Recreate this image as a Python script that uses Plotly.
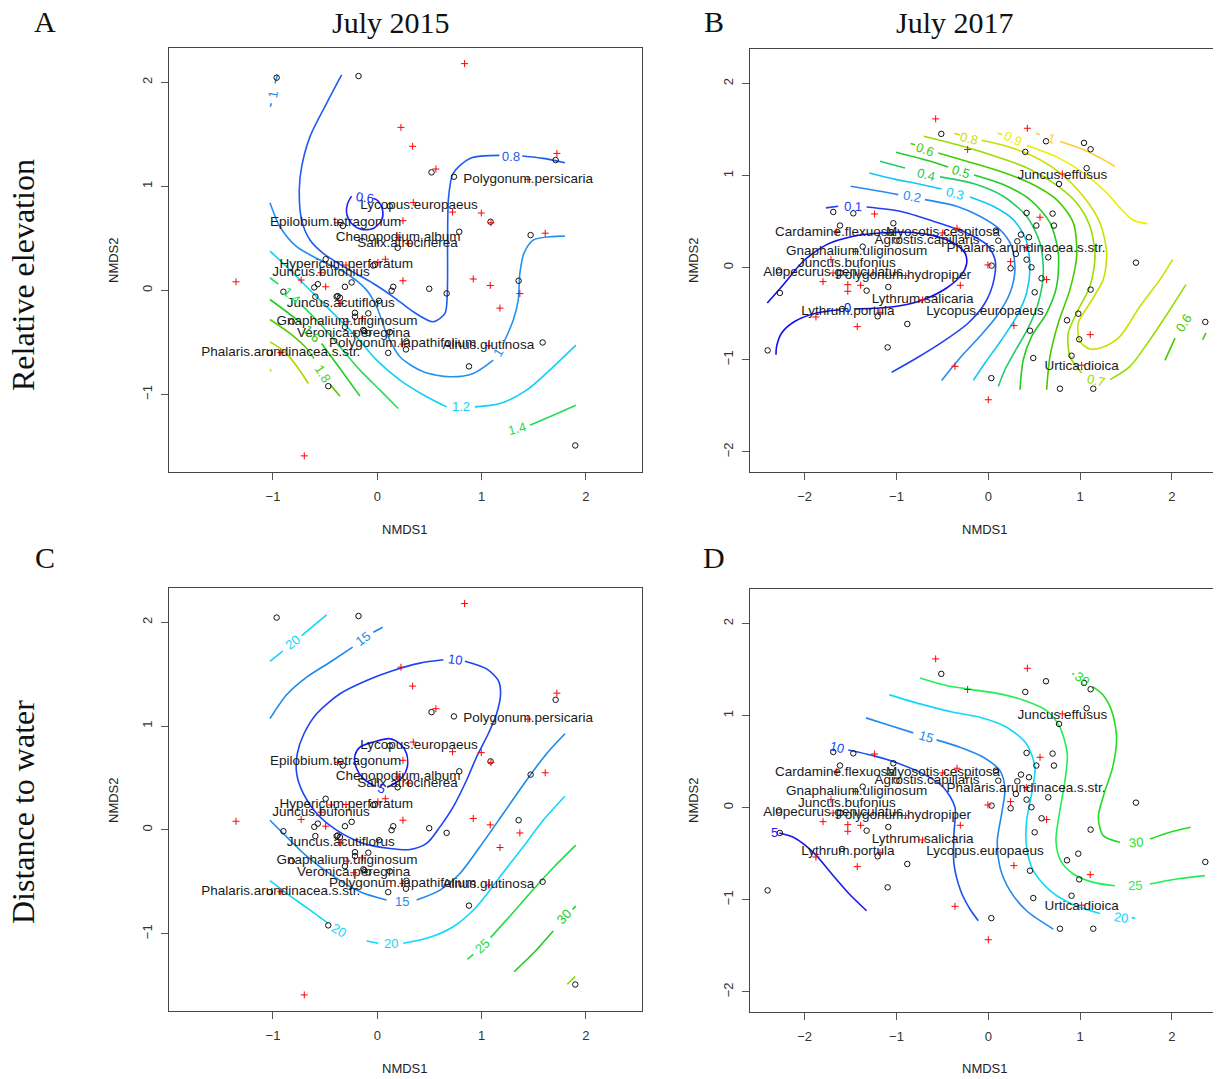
import math
import plotly.graph_objects as go

W0, H0 = 1221, 1079      # reference picture size
OFF = 8                  # page body margin of the browser
W, H = W0 - OFF, H0 - OFF

# ------------------------------------------------------------------ data
# 2015 ordination (panels A and C)
sites15_x = [-0.965, -0.18, 0.52, 0.735, 1.71, 1.086, 0.786, 1.47, 1.355, 0.665, 0.498, 0.153, 0.137,
             1.585, 0.879, 1.898, -0.47, 0.105, 0.275, 0.28, -0.9, -0.604, -0.57, -0.31, -0.246, -0.495,
             -0.594, -0.38, -0.358, -0.214, -0.086, 0.016, -0.214, -0.31, -0.134, -0.086, 0.12, 0.195,
             -0.33, 0.12, -0.82, -1.03, -0.04, -0.39, -0.125]
sites15_y = [2.045, 2.06, 1.135, 1.093, 1.253, 0.66, 0.564, 0.532, 0.093, -0.029, 0.016, 0.035, -0.003,
             -0.5, -0.73, -1.49, -0.92, -0.60, -0.567, -0.49, -0.013, 0.029, 0.06, 0.035, 0.077, 0.30,
             -0.06, -0.054, -0.07, -0.215, -0.22, -0.10, -0.253, -0.35, -0.38, -0.41, -0.40, 0.41,
             0.62, 0.81, -0.30, -0.60, 0.24, -0.06, -0.39]
species15_x = [0.837, 0.227, 0.339, 0.562, 1.722, 1.444, 0.345, 0.997, 1.09, 0.722, 0.246, -0.38, 1.61,
               0.2, 0.30, 0.077, 0.006, -0.30, -0.54, -0.73, -0.495, -1.355, 0.246, 0.92, 1.083, 1.367,
               1.176, -0.35, -0.29, -0.227, 0.243, 1.065, -0.925, -0.70, -0.44, -0.14]
species15_y = [2.18, 1.567, 1.385, 1.167, 1.317, 1.067, 0.846, 0.744, 0.65, 0.753, 0.67, 0.65, 0.55,
               0.51, 0.45, 0.30, 0.27, 0.244, 0.17, 0.10, 0.035, 0.083, 0.093, 0.11, 0.048, -0.03,
               -0.17, -0.125, -0.30, -0.413, -0.516, -0.532, -0.596, -1.59, 0.24, -0.27]
names15 = ["Polygonum.persicaria", "Lycopus.europaeus", "Epilobium.tetragonum", "Chenopodium.album",
           "Salix.atrocinerea", "Hypericum.perforatum", "Juncus.bufonius", "Juncus.acutiflorus",
           "Gnaphalium.uliginosum", "Veronica.peregrina", "Polygonum.lapathifolium", "Alnus.glutinosa",
           "Phalaris.arundinacea.s.str."]
names15_x = [1.447, 0.40, -0.40, 0.20, 0.29, -0.297, -0.54, -0.35, -0.29, -0.227, 0.243, 1.065, -0.925]
names15_y = [1.067, 0.814, 0.654, 0.51, 0.449, 0.244, 0.17, -0.125, -0.30, -0.413, -0.516, -0.532, -0.596]

# 2017 ordination (panels B and D)
sites17_x = [-0.512, 0.403, 0.628, 1.042, 1.114, 1.071, 0.77, -1.688, -1.47, -1.034, -1.615, 0.417, 0.70,
             0.523, 0.715, 0.083, 0.109, 0.356, 0.443, 0.316, 0.30, 0.417, 0.47, 0.653, 0.243, 0.036,
             1.608, 0.58, 0.505, 1.114, 0.98, 0.857, 0.99, 0.907, 0.454, 0.49, 0.033, 0.78, 1.143,
             2.363, -1.089, -1.325, -0.882, -1.096, -2.403, -2.27, -1.205, -1.593, -1.368, -1.0, -2.28]
sites17_y = [1.453, 1.257, 1.373, 1.355, 1.286, 1.08, 0.909, 0.605, 0.59, 0.482, 0.457, 0.594, 0.587,
             0.457, 0.457, 0.402, 0.293, 0.359, 0.33, 0.286, 0.149, 0.087, 0.004, 0.112, -0.007, 0.022,
             0.054, -0.116, -0.268, -0.239, -0.5, -0.572, -0.779, -0.957, -0.685, -0.982, -1.2, -1.315,
             -1.315, -0.59, -0.21, -0.25, -0.612, -0.866, -0.899, -0.275, -0.529, -0.449, 0.228, 0.293, -0.03]
species17_x = [-0.573, 0.425, -0.225, 0.806, -1.238, 0.563, -0.341, -0.497, -0.004, 0.243, 0.635, -0.305,
               0.279, 1.11, -0.363, 0.0, -1.427, -1.877, -1.80, -1.53, -1.53, -1.39, -1.713, -1.65,
               -1.445, -1.69, -0.9, -0.715, -1.18, 1.016, 0.414]
species17_y = [1.616, 1.514, 1.283, 1.018, 0.583, 0.547, 0.428, 0.377, 0.029, 0.065, -0.13, -0.192,
               -0.63, -0.728, -1.072, -1.435, -0.641, -0.536, -0.152, -0.185, -0.257, -0.192, 0.087, 0.39,
               0.174, -0.058, -0.087, -0.351, -0.49, -1.06, 0.217]
names17 = ["Juncus.effusus", "Cardamine.flexuosa", "Myosotis.cespitosa", "Agrostis.capillaris",
           "Phalaris.arundinacea.s.str.", "Gnaphalium.uliginosum", "Juncus.bufonius",
           "Alopecurus.geniculatus", "Polygonum.hydropiper", "Lythrum.salicaria", "Lythrum.portula",
           "Lycopus.europaeus", "Urtica.dioica"]
names17_x = [0.806, -1.67, -0.494, -0.667, 0.41, -1.434, -1.54, -1.69, -0.925, -0.715, -1.528, -0.036, 1.016]
names17_y = [1.0, 0.384, 0.377, 0.293, 0.203, 0.174, 0.043, -0.05, -0.083, -0.35, -0.48, -0.475, -1.08]

# fitted surface contour lines: (level label, points, indices of points carrying the level label)
elev15 = [
    ("0.6", [(-0.118, 0.894), (-0.038, 0.885), (0.008, 0.860), (0.051, 0.772), (0.042, 0.676), (-0.038, 0.596),
             (-0.150, 0.587), (-0.246, 0.644), (-0.294, 0.740), (-0.284, 0.837), (-0.246, 0.907)], [0]),
    ("0.8", [(-0.342, 2.071), (-0.486, 1.798), (-0.645, 1.478), (-0.725, 1.189), (-0.748, 0.965), (-0.725, 0.676),
             (-0.645, 0.484), (-0.518, 0.356), (-0.294, 0.212), (-0.038, 0.067), (0.153, -0.061), (0.345, -0.205),
             (0.537, -0.301), (0.649, -0.221), (0.671, -0.029), (0.674, 0.484), (0.684, 0.901), (0.728, 1.125),
             (0.888, 1.269), (1.17, 1.298), (1.281, 1.290), (1.39, 1.292), (1.591, 1.269), (1.799, 1.228)], [20]),
    ("1", [(-0.958, 2.071), (-0.981, 1.990), (-1.003, 1.885), (-1.016, 1.798), (-1.026, 1.766)], [2]),
    ("1", [(-1.029, 0.843), (-0.933, 0.612), (-0.773, 0.420), (-0.550, 0.292), (-0.294, 0.163), (-0.102, 0.003),
           (-0.006, -0.157), (0.089, -0.413), (0.217, -0.638), (0.441, -0.782), (0.696, -0.830), (0.920, -0.798),
           (1.112, -0.670), (1.160, -0.599), (1.208, -0.510), (1.304, -0.285), (1.351, -0.093), (1.367, 0.163),
           (1.406, 0.356), (1.495, 0.484), (1.655, 0.516), (1.799, 0.522)], [13]),
    ("1.2", [(-1.029, 0.378), (-0.869, 0.228), (-0.677, 0.035), (-0.422, -0.221), (-0.230, -0.413), (-0.006, -0.670),
             (0.217, -0.862), (0.473, -1.022), (0.665, -1.119), (0.802, -1.119), (0.936, -1.119), (1.176, -1.087),
             (1.431, -0.958), (1.687, -0.734), (1.904, -0.526)], [9]),
    ("1.4", [(-1.029, 0.122), (-0.949, 0.061), (-0.821, -0.045), (-0.725, -0.141), (-0.550, -0.317), (-0.358, -0.542),
             (-0.166, -0.766), (0.026, -0.958), (0.201, -1.135)], [2]),
    ("1.4", [(1.342, -1.327), (1.463, -1.295), (1.687, -1.199), (1.904, -1.103)], [0]),
    ("1.6", [(-1.029, -0.087), (-0.869, -0.205), (-0.725, -0.317), (-0.629, -0.413), (-0.534, -0.510),
             (-0.358, -0.750), (-0.166, -1.016)], [3]),
    ("1.8", [(-1.029, -0.279), (-0.837, -0.413), (-0.677, -0.558), (-0.607, -0.654), (-0.524, -0.798),
             (-0.447, -0.910), (-0.358, -1.016)], [4]),
    ("2", [(-1.029, -0.494), (-0.885, -0.590), (-0.757, -0.750), (-0.661, -0.894)], []),
    ("2.2", [(-1.026, -0.755), (-1.018, -0.778)], []),
]
elev15_colors = {"0.6": "#2323f5", "0.8": "#1f5cf5", "1": "#2391f0", "1.2": "#10d0f5", "1.4": "#22dd55",
                 "1.6": "#22cc22", "1.8": "#55cc00", "2": "#a8d800", "2.2": "#dddd00"}

elev17 = [
    ("0", [(-2.407, -0.384), (-2.232, -0.185), (-2.015, 0.069), (-1.760, 0.250), (-1.470, 0.341), (-1.180, 0.377),
           (-0.889, 0.384), (-0.599, 0.348), (-0.381, 0.268), (-0.254, 0.159), (-0.236, 0.043), (-0.290, -0.076),
           (-0.454, -0.221), (-0.708, -0.348), (-0.998, -0.420), (-1.252, -0.442), (-1.452, -0.449),
           (-1.535, -0.438), (-1.615, -0.457), (-1.869, -0.493), (-2.105, -0.583), (-2.250, -0.710),
           (-2.305, -0.855), (-2.312, -0.946)], [17]),
    ("0.1", [(-1.768, 0.649), (-1.634, 0.667), (-1.470, 0.659), (-1.325, 0.659), (-0.962, 0.612), (-0.599, 0.504),
             (-0.236, 0.377), (-0.018, 0.250), (0.073, 0.087), (0.062, -0.130), (-0.036, -0.384), (-0.218, -0.601),
             (-0.490, -0.801), (-0.780, -0.982), (-1.053, -1.138)], [2]),
    ("0.2", [(-1.499, 0.884), (-1.180, 0.830), (-0.980, 0.793), (-0.835, 0.768), (-0.690, 0.739), (-0.345, 0.667),
             (-0.091, 0.558), (0.127, 0.413), (0.254, 0.232), (0.290, -0.022), (0.236, -0.275), (0.091, -0.529),
             (-0.091, -0.746), (-0.309, -0.982), (-0.508, -1.225)], [3]),
    ("0.3", [(-1.296, 1.029), (-1.034, 0.964), (-0.780, 0.913), (-0.508, 0.855), (-0.363, 0.804), (-0.200, 0.768),
             (0.054, 0.667), (0.272, 0.522), (0.410, 0.304), (0.454, 0.014), (0.417, -0.275), (0.309, -0.529),
             (0.145, -0.783), (-0.036, -1.036), (-0.163, -1.225)], [4]),
    ("0.4", [(-1.180, 1.156), (-0.907, 1.083), (-0.682, 1.011), (-0.526, 0.986), (-0.163, 0.913), (0.163, 0.775),
             (0.417, 0.558), (0.563, 0.268), (0.599, -0.058), (0.544, -0.384), (0.425, -0.674), (0.290, -0.909),
             (0.181, -1.109), (0.109, -1.290)], [2]),
    ("0.5", [(-1.005, 1.254), (-0.671, 1.167), (-0.436, 1.094), (-0.301, 1.047), (-0.156, 1.007), (0.163, 0.902),
             (0.454, 0.739), (0.672, 0.486), (0.762, 0.159), (0.744, -0.203), (0.635, -0.493), (0.472, -0.746),
             (0.381, -1.000), (0.345, -1.326)], [3]),
    ("0.6", [(-0.846, 1.348), (-0.80, 1.335), (-0.690, 1.283), (-0.544, 1.246), (-0.236, 1.156), (0.127, 1.047),
             (0.454, 0.920), (0.744, 0.739), (0.926, 0.486), (0.962, 0.123), (0.889, -0.239), (0.762, -0.601),
             (0.672, -0.964), (0.635, -1.326)], [2]),
    ("0.6", [(1.924, -1.007), (2.033, -0.765), (2.134, -0.601), (2.250, -0.420)], [2]),
    ("0.6", [(2.334, -0.783), (2.370, -0.710)], []),
    ("0.7", [(-0.701, 1.428), (-0.345, 1.337), (0.018, 1.228), (0.381, 1.101), (0.708, 0.920), (0.962, 0.703),
             (1.107, 0.449), (1.162, 0.123), (1.107, -0.203), (0.980, -0.457), (0.871, -0.710), (0.889, -0.964),
             (1.016, -1.145), (1.172, -1.225), (1.325, -1.217), (1.543, -1.072), (1.760, -0.783),
             (1.978, -0.457), (2.152, -0.185)], [13]),
    ("0.8", [(-0.37, 1.46), (-0.31, 1.44), (-0.207, 1.406), (-0.073, 1.384), (0.200, 1.319), (0.490, 1.210),
             (0.780, 1.029), (1.034, 0.775), (1.216, 0.486), (1.289, 0.159), (1.252, -0.130), (1.107, -0.384),
             (0.980, -0.601), (0.998, -0.801), (1.107, -0.884), (1.252, -0.862), (1.434, -0.746),
             (1.652, -0.420), (1.869, -0.130), (2.007, 0.087)], [2]),
    ("0.9", [(0.10, 1.46), (0.15, 1.445), (0.265, 1.399), (0.417, 1.326), (0.744, 1.203), (1.034, 1.029),
             (1.289, 0.812), (1.434, 0.649), (1.579, 0.514), (1.731, 0.478)], [2]),
    ("1", [(0.52, 1.46), (0.56, 1.445), (0.690, 1.399), (0.780, 1.370), (1.034, 1.283), (1.216, 1.192),
           (1.379, 1.101)], [2]),
]
elev17_colors = {"0": "#1010ee", "0.1": "#1f40f5", "0.2": "#2a88f5", "0.3": "#10c8f5", "0.4": "#22cc66",
                 "0.5": "#22cc22", "0.6": "#44cc00", "0.7": "#99dd00", "0.8": "#cce000", "0.9": "#eeee00",
                 "1": "#ffcc33"}

dist15 = [
    ("5", [(0.042, 0.397), (-0.022, 0.420), (-0.134, 0.494), (-0.204, 0.606), (-0.214, 0.718), (-0.166, 0.798),
           (-0.038, 0.846), (0.121, 0.878), (0.217, 0.830), (0.281, 0.734), (0.288, 0.606), (0.243, 0.510),
           (0.153, 0.439), (0.095, 0.41)], [0]),
    ("10", [(0.744, 1.638), (0.840, 1.625), (1.048, 1.551), (1.160, 1.439), (1.182, 1.311), (1.144, 1.119),
            (1.064, 0.926), (0.952, 0.702), (0.856, 0.478), (0.728, 0.221), (0.601, 0.029), (0.473, -0.131),
            (0.313, -0.189), (0.121, -0.179), (-0.134, -0.131), (-0.390, -0.003), (-0.581, 0.157), (-0.709, 0.349),
            (-0.773, 0.542), (-0.767, 0.734), (-0.703, 0.926), (-0.581, 1.119), (-0.358, 1.311), (-0.102, 1.439),
            (0.153, 1.535), (0.409, 1.606), (0.633, 1.638)], [0]),
    ("15", [(-1.029, 1.071), (-0.869, 1.301), (-0.677, 1.471), (-0.454, 1.615), (-0.236, 1.760), (-0.134, 1.840),
            (-0.038, 1.904), (0.051, 1.952)], [5]),
    ("15", [(-1.029, 0.093), (-0.869, -0.067), (-0.677, -0.253), (-0.422, -0.446), (-0.166, -0.596), (0.089, -0.676),
            (0.233, -0.692), (0.377, -0.676), (0.601, -0.580), (0.792, -0.420), (0.984, -0.163), (1.208, 0.157),
            (1.431, 0.478), (1.623, 0.734), (1.799, 0.926)], [6]),
    ("20", [(-1.029, 1.622), (-0.907, 1.721), (-0.812, 1.801), (-0.725, 1.872), (-0.486, 2.071)], [2]),
    ("20", [(-1.029, -0.490), (-0.869, -0.612), (-0.677, -0.750), (-0.470, -0.901), (-0.364, -0.965)], [4]),
    ("20", [(-0.102, -1.071), (0.010, -1.093), (0.131, -1.093), (0.249, -1.093), (0.473, -1.045), (0.728, -0.933),
            (0.952, -0.740), (1.176, -0.452), (1.399, -0.163), (1.591, 0.093), (1.799, 0.324)], [2]),
    ("25", [(0.863, -1.247), (0.920, -1.199), (1.000, -1.119), (1.086, -1.038), (1.272, -0.830), (1.495, -0.574),
            (1.687, -0.365), (1.904, -0.147)], [2]),
    ("30", [(1.313, -1.365), (1.495, -1.189), (1.687, -0.974), (1.792, -0.837), (1.872, -0.766),
            (1.904, -0.734)], [3]),
    ("35", [(1.821, -1.487), (1.898, -1.413)], []),
]
dist15_colors = {"5": "#1a1aee", "10": "#1a44f5", "15": "#1f88ee", "20": "#10d8f8", "25": "#22dd44",
                 "30": "#22cc22", "35": "#77dd00"}

dist17 = [
    ("5", [(-2.330, -0.275), (-2.276, -0.275), (-2.123, -0.322), (-1.906, -0.486), (-1.688, -0.739),
           (-1.506, -0.946), (-1.325, -1.120)], [0]),
    ("10", [(-1.644, 0.656), (-1.525, 0.627), (-1.252, 0.565), (-0.962, 0.475), (-0.672, 0.348), (-0.483, 0.214),
            (-0.363, 0.004), (-0.374, -0.286), (-0.374, -0.612), (-0.301, -0.902), (-0.200, -1.101),
            (-0.109, -1.228)], [0]),
    ("15", [(-1.332, 0.975), (-1.071, 0.891), (-0.817, 0.812), (-0.682, 0.772), (-0.563, 0.736), (-0.309, 0.656),
            (-0.054, 0.547), (0.127, 0.402), (0.181, 0.203), (0.145, -0.069), (0.098, -0.359), (0.127, -0.649),
            (0.236, -0.902), (0.417, -1.120), (0.708, -1.319)], [3]),
    ("20", [(-1.078, 1.225), (-0.744, 1.127), (-0.381, 1.036), (-0.091, 0.982), (0.200, 0.873), (0.417, 0.692),
            (0.508, 0.438), (0.472, 0.149), (0.417, -0.141), (0.417, -0.431), (0.490, -0.685), (0.672, -0.902),
            (0.926, -1.054), (1.216, -1.149), (1.445, -1.192), (1.56, -1.198), (1.60, -1.199)], [14]),
    ("25", [(-0.744, 1.409), (-0.454, 1.326), (-0.163, 1.279), (0.127, 1.236), (0.417, 1.156), (0.635, 1.054),
            (0.780, 0.873), (0.860, 0.583), (0.835, 0.293), (0.773, -0.069), (0.737, -0.359), (0.788, -0.576),
            (0.926, -0.721), (1.143, -0.812), (1.379, -0.848), (1.597, -0.848), (1.760, -0.830), (2.051, -0.775),
            (2.359, -0.739)], [15]),
    ("30", [(0.915, 1.458), (0.935, 1.45), (1.016, 1.399), (1.136, 1.315), (1.245, 1.228), (1.343, 1.054),
            (1.397, 0.764), (1.354, 0.438), (1.260, 0.149), (1.198, -0.105), (1.252, -0.304), (1.434, -0.377),
            (1.604, -0.377), (1.760, -0.341), (1.978, -0.268), (2.203, -0.214)], [2, 12]),
]
dist17_colors = {"5": "#1a1aee", "10": "#1a50f5", "15": "#2288ee", "20": "#10d8f8", "25": "#22ee55",
                 "30": "#22dd22"}

# ------------------------------------------------------------------ layout geometry (reference pixels)
panels = [
    ("", 169, 642, 48, 472, [-1.997, 2.538], [-1.745, 2.33], "15", elev15, elev15_colors),
    ("2", 750, 1221, 49, 472, [-2.595, 2.534], [-2.22, 2.375], "17", elev17, elev17_colors),
    ("3", 169, 642, 588, 1011, [-1.997, 2.538], [-1.745, 2.33], "15", dist15, dist15_colors),
    ("4", 750, 1221, 589, 1012, [-2.595, 2.534], [-2.22, 2.375], "17", dist17, dist17_colors),
]
ordin = {
    "15": (sites15_x, sites15_y, species15_x, species15_y, names15, names15_x, names15_y),
    "17": (sites17_x, sites17_y, species17_x, species17_y, names17, names17_x, names17_y),
}

SANS = "Liberation Sans, Arial, sans-serif"
SERIF = "Liberation Serif, Times New Roman, serif"

fig = go.Figure()
annotations = []

for key, L, R, T, B, xr, yr, oid, contours, colors in panels:
    xa, ya = "x" + key, "y" + key
    sx = (R - L) / (xr[1] - xr[0])
    sy = (B - T) / (yr[1] - yr[0])
    sxs, sys_, spx, spy, nm, nmx, nmy = ordin[oid]
    # contour lines
    for lev, pts, lab in contours:
        col = colors[lev]
        xs, ys = [], []
        for i, (px, py) in enumerate(pts):
            if i in lab:
                xs.append(None)
                ys.append(None)
            else:
                xs.append(px)
                ys.append(py)
        fig.add_trace(go.Scatter(x=xs, y=ys, mode="lines", xaxis=xa, yaxis=ya, showlegend=False,
                                 line=dict(color=col, width=1.6, shape="spline", smoothing=0.8),
                                 connectgaps=False, hoverinfo="skip"))
        for i in lab:
            i0 = max(i - 1, 0)
            i1 = min(i + 1, len(pts) - 1)
            dx = (pts[i1][0] - pts[i0][0]) * sx
            dy = (pts[i1][1] - pts[i0][1]) * sy
            ang = -math.degrees(math.atan2(dy, dx))
            while ang > 90:
                ang -= 180
            while ang < -90:
                ang += 180
            annotations.append(dict(x=pts[i][0], y=pts[i][1], xref=xa, yref=ya, text=lev, showarrow=False,
                                    textangle=ang, font=dict(family=SANS, size=13, color=col),
                                    xanchor="center", yanchor="middle"))
    # sites
    fig.add_trace(go.Scatter(x=sxs, y=sys_, mode="markers", xaxis=xa, yaxis=ya, showlegend=False,
                             marker=dict(symbol="circle-open", size=5.5, color="#111111",
                                         line=dict(width=1, color="#111111")), hoverinfo="skip"))
    # species
    fig.add_trace(go.Scatter(x=spx, y=spy, mode="markers", xaxis=xa, yaxis=ya, showlegend=False,
                             marker=dict(symbol="cross-thin-open", size=5, color="red",
                                         line=dict(width=1, color="red")), hoverinfo="skip"))
    # species names
    fig.add_trace(go.Scatter(x=nmx, y=nmy, text=nm, mode="text", xaxis=xa, yaxis=ya, showlegend=False,
                             textposition="middle center",
                             textfont=dict(family=SANS, size=13.5, color="#1a1a1a"), hoverinfo="skip"))

layout_axes = {}
for key, L, R, T, B, xr, yr, oid, contours, colors in panels:
    xname = "xaxis" + key
    yname = "yaxis" + key
    layout_axes[xname] = dict(domain=[(L - OFF) / W, min(1.0, (R - OFF) / W)], range=xr, anchor="y" + key,
                              showgrid=False, zeroline=False, showline=True, linecolor="#444444", linewidth=1,
                              mirror=True, ticks="outside", ticklen=7, tickcolor="#555555", tickmode="array",
                              tickvals=[-2, -1, 0, 1, 2], ticktext=["\u22122", "\u22121", "0", "1", "2"],
                              ticklabelstandoff=5,
                              tickfont=dict(family=SANS, size=13, color="#333333"))
    yt = [-2, -1, 0, 1, 2] if yr[0] < -2 else [-1, 0, 1, 2]
    layout_axes[yname] = dict(domain=[1 - (B - OFF) / H, 1 - (T - OFF) / H], range=yr, anchor="x" + key,
                              showgrid=False, zeroline=False, showline=True, linecolor="#444444", linewidth=1,
                              mirror=True, ticks="outside", ticklen=7, tickcolor="#555555", tickmode="array",
                              tickvals=yt, ticktext=[("\u2212" + str(-v)) if v < 0 else str(v) for v in yt],
                              tickangle=-90, ticklabelstandoff=4,
                              tickfont=dict(family=SANS, size=13, color="#333333"))


def pa(px, py, text, size, family, angle=0, color="#111111"):
    return dict(x=(px - OFF) / W, y=1 - (py - OFF) / H, xref="paper", yref="paper", text=text,
                showarrow=False, textangle=angle, xanchor="center", yanchor="middle",
                font=dict(family=family, size=size, color=color))


annotations += [
    pa(45, 22, "A", 30, SERIF), pa(391, 23, "July 2015", 30, SERIF),
    pa(714, 22, "B", 30, SERIF), pa(955, 23, "July 2017", 30, SERIF),
    pa(45, 557, "C", 30, SERIF), pa(714, 557, "D", 30, SERIF),
    pa(23, 275, "Relative elevation", 32, SERIF, -90),
    pa(23, 812, "Distance to water", 32, SERIF, -90),
    pa(405, 529, "NMDS1", 13, SANS, 0, "#222222"), pa(985, 529, "NMDS1", 13, SANS, 0, "#222222"),
    pa(405, 1068, "NMDS1", 13, SANS, 0, "#222222"), pa(985, 1068, "NMDS1", 13, SANS, 0, "#222222"),
    pa(113, 260, "NMDS2", 13, SANS, -90, "#222222"), pa(693, 260, "NMDS2", 13, SANS, -90, "#222222"),
    pa(113, 800, "NMDS2", 13, SANS, -90, "#222222"), pa(693, 800, "NMDS2", 13, SANS, -90, "#222222"),
]

fig.update_layout(width=W, height=H, margin=dict(l=0, r=0, t=0, b=0), paper_bgcolor="white",
                  plot_bgcolor="white", showlegend=False, annotations=annotations, **layout_axes)

fig.write_html("out.html")
